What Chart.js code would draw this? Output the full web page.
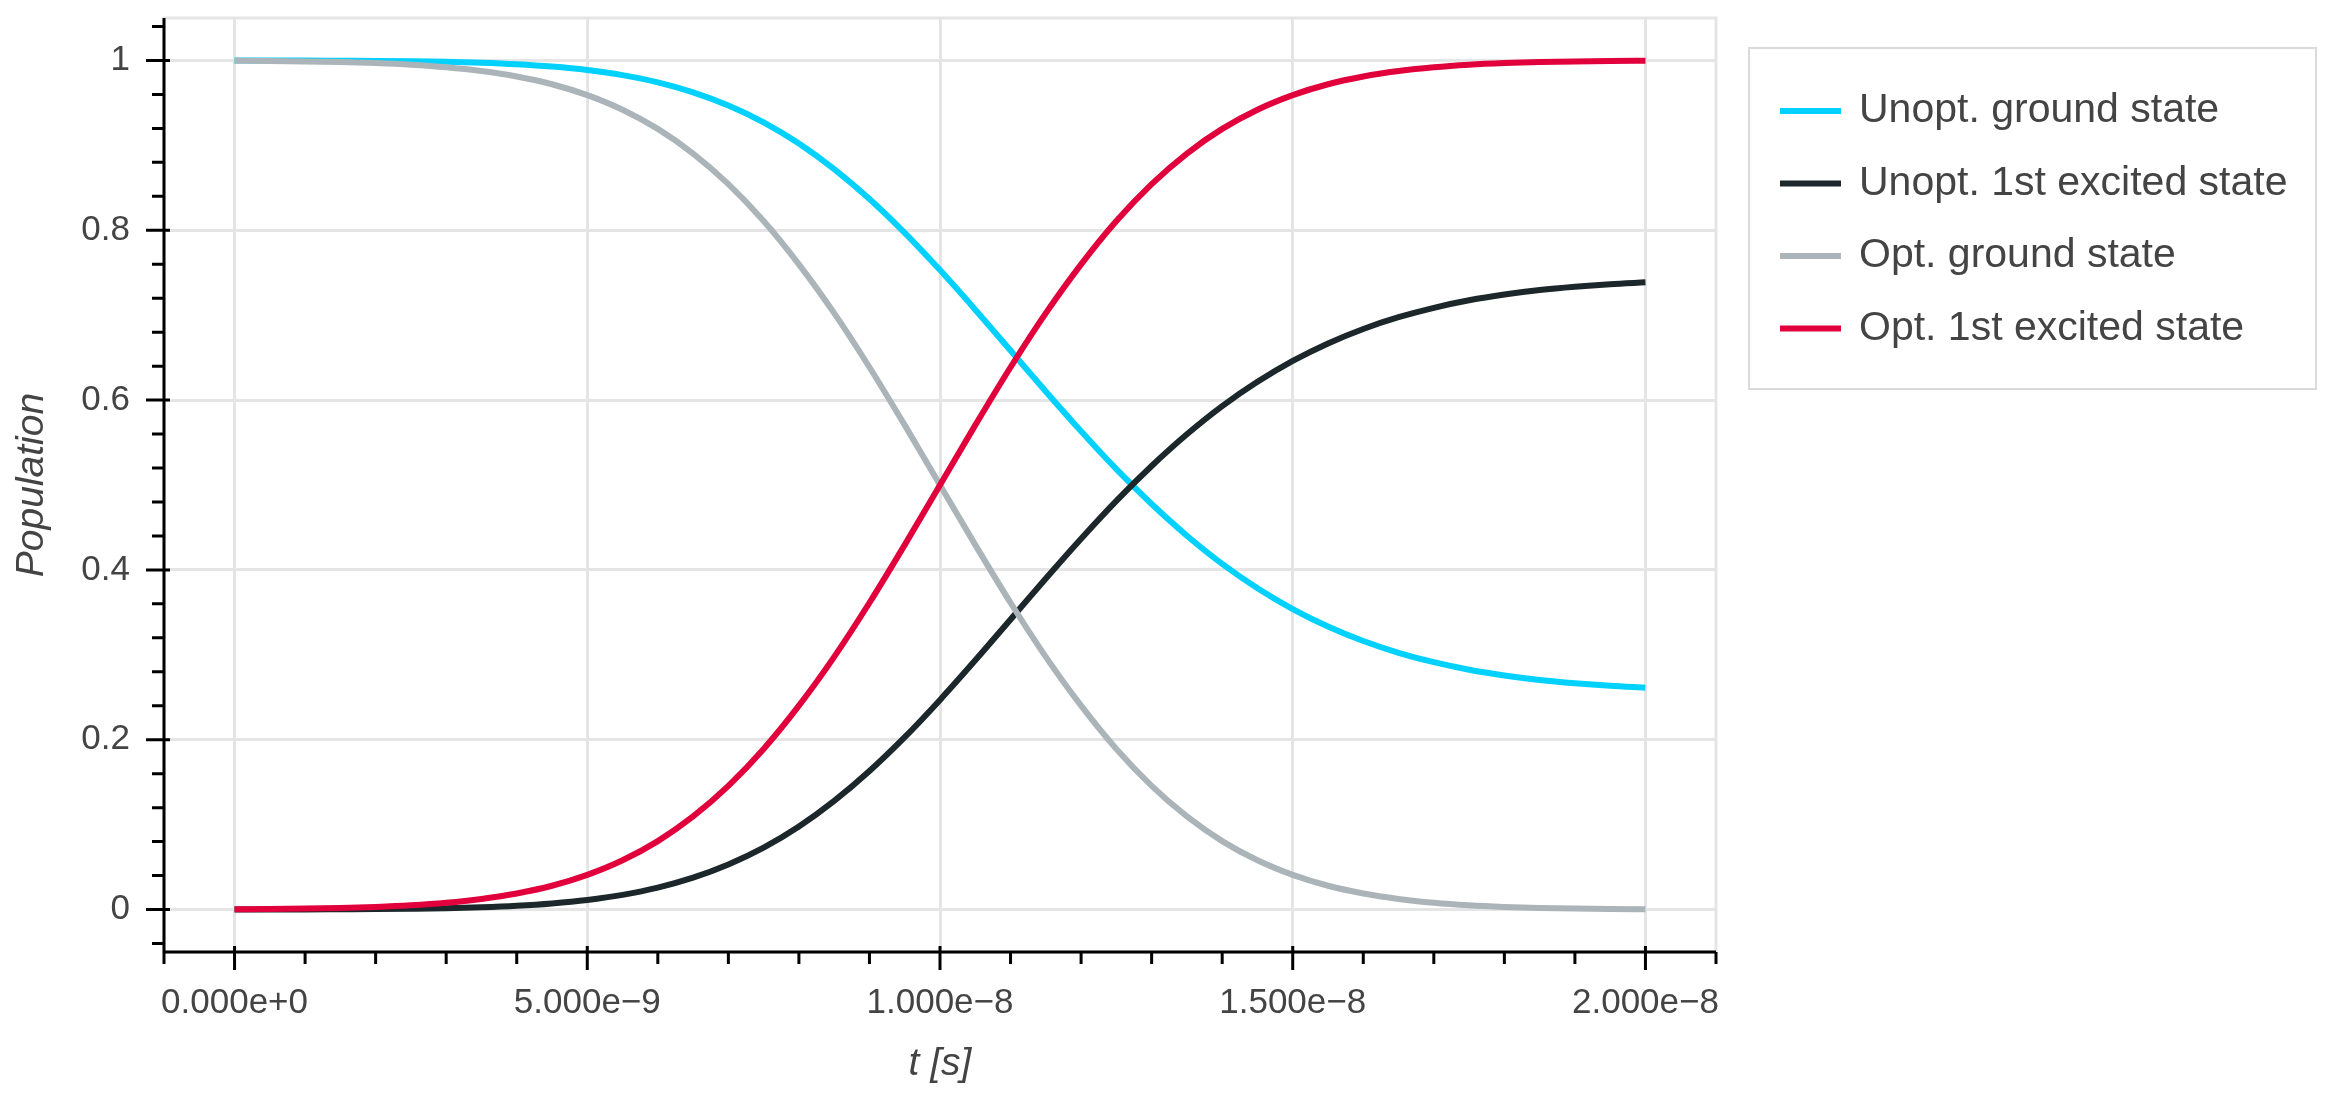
<!DOCTYPE html>
<html>
<head>
<meta charset="utf-8">
<script src="https://cdn.jsdelivr.net/npm/chart.js@4.4.1/dist/chart.umd.min.js"></script>
<style>
  html, body { margin: 0; padding: 0; background: #fff; }
  #wrap { position: relative; width: 2352px; height: 1094px; }
</style>
</head>
<body>
<div id="wrap"><canvas id="chart"></canvas></div>
<script>
// sample times [s]
const times = [
  0, 5e-10, 1e-9, 1.5e-9, 2e-9, 2.5e-9, 3e-9, 3.5e-9, 4e-9, 4.5e-9,
  5e-9, 5.5e-9, 6e-9, 6.5e-9, 7e-9, 7.5e-9, 8e-9, 8.5e-9, 9e-9, 9.5e-9,
  1e-8, 1.05e-8, 1.1e-8, 1.15e-8, 1.2e-8, 1.25e-8, 1.3e-8, 1.35e-8, 1.4e-8, 1.45e-8,
  1.5e-8, 1.55e-8, 1.6e-8, 1.65e-8, 1.7e-8, 1.75e-8, 1.8e-8, 1.85e-8, 1.9e-8, 1.95e-8,
  2e-8
];

// populations
const unoptGround = [
  1.0000, 0.9999, 0.9999, 0.9997, 0.9995, 0.9991, 0.9985, 0.9974, 0.9956, 0.9928,
  0.9887, 0.9827, 0.9742, 0.9625, 0.9470, 0.9272, 0.9023, 0.8721, 0.8369, 0.7970,
  0.7531, 0.7065, 0.6584, 0.6101, 0.5632, 0.5186, 0.4776, 0.4403, 0.4071, 0.3785,
  0.3539, 0.3333, 0.3162, 0.3024, 0.2913, 0.2825, 0.2757, 0.2704, 0.2665, 0.2635,
  0.2613
];
const unoptExcited = [
  0.0000, 0.0001, 0.0001, 0.0003, 0.0005, 0.0009, 0.0015, 0.0026, 0.0044, 0.0072,
  0.0113, 0.0173, 0.0258, 0.0375, 0.0530, 0.0728, 0.0977, 0.1279, 0.1631, 0.2030,
  0.2469, 0.2935, 0.3416, 0.3899, 0.4368, 0.4814, 0.5224, 0.5597, 0.5929, 0.6215,
  0.6461, 0.6667, 0.6838, 0.6976, 0.7087, 0.7175, 0.7243, 0.7296, 0.7335, 0.7365,
  0.7387
];
const optGround = [
  0.9996, 0.9994, 0.9989, 0.9981, 0.9969, 0.9950, 0.9920, 0.9875, 0.9811, 0.9720,
  0.9592, 0.9420, 0.9194, 0.8904, 0.8544, 0.8109, 0.7599, 0.7024, 0.6387, 0.5705,
  0.5000, 0.4295, 0.3613, 0.2976, 0.2401, 0.1891, 0.1456, 0.1096, 0.0806, 0.0580,
  0.0408, 0.0280, 0.0189, 0.0125, 0.0080, 0.0050, 0.0031, 0.0019, 0.0011, 0.0006,
  0.0004
];
const optExcited = [
  0.0004, 0.0006, 0.0011, 0.0019, 0.0031, 0.0050, 0.0080, 0.0125, 0.0189, 0.0280,
  0.0408, 0.0580, 0.0806, 0.1096, 0.1456, 0.1891, 0.2401, 0.2976, 0.3613, 0.4295,
  0.5000, 0.5705, 0.6387, 0.7024, 0.7599, 0.8109, 0.8544, 0.8904, 0.9194, 0.9420,
  0.9592, 0.9720, 0.9811, 0.9875, 0.9920, 0.9950, 0.9969, 0.9981, 0.9989, 0.9994,
  0.9996
];

const seriesNames = ["Unopt. ground state", "Unopt. 1st excited state", "Opt. ground state", "Opt. 1st excited state"];
const xTicks = [0, 5e-9, 1e-8, 1.5e-8, 2e-8];
const xTickLabels = ["0.000e+0", "5.000e\u22129", "1.000e\u22128", "1.500e\u22128", "2.000e\u22128"];
const yTicks = [0, 0.2, 0.4, 0.6, 0.8, 1];
const yTickLabels = ["0", "0.2", "0.4", "0.6", "0.8", "1"];

const FONT = '"Liberation Sans", Arial, Helvetica, sans-serif';
const TEXT = '#444444';

const toPoints = ys => ys.map((y, i) => ({x: times[i], y: y}));

function line(label, values, color, order) {
  return {
    label: label,
    data: toPoints(values),
    borderColor: color,
    backgroundColor: color,
    borderWidth: 6,
    pointRadius: 0,
    pointHoverRadius: 0,
    cubicInterpolationMode: 'monotone',
    fill: false,
    order: order
  };
}

// frame outline, axis lines and bokeh-style major/minor ticks
const axesPlugin = {
  id: 'axes',
  beforeDatasetsDraw(chart) {
    const {ctx, chartArea: a} = chart;
    ctx.save();
    ctx.strokeStyle = '#e5e5e5';
    ctx.lineWidth = 3;
    ctx.strokeRect(a.left, a.top, a.right - a.left, a.bottom - a.top);
    ctx.restore();
  },
  afterDraw(chart) {
    const {ctx, chartArea: a, scales: {x, y}} = chart;
    ctx.save();
    ctx.strokeStyle = '#000';
    ctx.lineWidth = 3;
    ctx.beginPath();
    ctx.moveTo(a.left, a.top);
    ctx.lineTo(a.left, a.bottom + 1.5);
    ctx.moveTo(a.left - 1.5, a.bottom);
    ctx.lineTo(a.right, a.bottom);
    xTicks.forEach(v => {
      const px = x.getPixelForValue(v);
      ctx.moveTo(px, a.bottom - 6);
      ctx.lineTo(px, a.bottom + 18);
    });
    for (let i = -1; i <= 21; i++) {
      if (i % 5 === 0) continue;
      const px = x.getPixelForValue(i * 1e-9);
      ctx.moveTo(px, a.bottom);
      ctx.lineTo(px, a.bottom + 12);
    }
    yTicks.forEach(v => {
      const py = y.getPixelForValue(v);
      ctx.moveTo(a.left - 18, py);
      ctx.lineTo(a.left + 6, py);
    });
    for (let i = -1; i <= 26; i++) {
      if (i % 5 === 0) continue;
      const py = y.getPixelForValue(i * 0.04);
      ctx.moveTo(a.left - 12, py);
      ctx.lineTo(a.left, py);
    }
    ctx.stroke();
    ctx.restore();
  }
};

// boxed legend to the right of the plot
const legendPlugin = {
  id: 'boxLegend',
  afterDraw(chart) {
    const ctx = chart.ctx;
    const box = {left: 1749, top: 48, right: 2316, bottom: 389};
    ctx.save();
    ctx.fillStyle = '#fff';
    ctx.fillRect(box.left, box.top, box.right - box.left, box.bottom - box.top);
    ctx.strokeStyle = '#dadada';
    ctx.lineWidth = 2;
    ctx.strokeRect(box.left, box.top, box.right - box.left, box.bottom - box.top);
    ctx.font = '41px ' + FONT;
    ctx.textBaseline = 'middle';
    ctx.textAlign = 'left';
    chart.data.datasets.forEach((ds, i) => {
      const cy = 111 + i * 72.5;
      ctx.strokeStyle = ds.borderColor;
      ctx.lineWidth = 6;
      ctx.beginPath();
      ctx.moveTo(1780, cy);
      ctx.lineTo(1841, cy);
      ctx.stroke();
      ctx.fillStyle = TEXT;
      ctx.fillText(ds.label, 1859, cy);
    });
    ctx.restore();
  }
};

new Chart(document.getElementById('chart'), {
  type: 'line',
  data: {
    datasets: [
      line(seriesNames[0], unoptGround, '#00d1ff', 3),
      line(seriesNames[1], unoptExcited, '#1c272b', 2),
      line(seriesNames[2], optGround, '#abb5b9', 1),
      line(seriesNames[3], optExcited, '#e1003b', 0)
    ]
  },
  options: {
    responsive: true,
    maintainAspectRatio: false,
    devicePixelRatio: 1,
    animation: false,
    layout: {padding: {top: 18, right: 636, left: 0, bottom: 0}},
    plugins: {legend: {display: false}, tooltip: {enabled: false}},
    scales: {
      x: {
        type: 'linear',
        min: -1e-9,
        max: 2.1e-8,
        afterBuildTicks: s => { s.ticks = xTicks.map(v => ({value: v})); },
        afterFit: s => { s.height = 142; s.paddingLeft = 0; s.paddingRight = 0; },
        grid: {color: '#e5e5e5', lineWidth: 3, drawTicks: false},
        border: {display: false},
        ticks: {
          autoSkip: false,
          maxRotation: 0,
          padding: 30,
          color: TEXT,
          font: {family: FONT, size: 35},
          callback: (v, i) => xTickLabels[i]
        },
        title: {
          display: true,
          text: 't [s]',
          color: TEXT,
          padding: {top: 0, bottom: 6},
          font: {family: FONT, size: 39, style: 'italic'}
        }
      },
      y: {
        type: 'linear',
        min: -0.05,
        max: 1.05,
        afterBuildTicks: s => { s.ticks = yTicks.map(v => ({value: v})); },
        afterFit: s => { s.width = 164; s.paddingTop = 0; s.paddingBottom = 0; },
        grid: {color: '#e5e5e5', lineWidth: 3, drawTicks: false},
        border: {display: false},
        ticks: {
          autoSkip: false,
          padding: 34,
          color: TEXT,
          font: {family: FONT, size: 35},
          callback: (v, i) => yTickLabels[i]
        },
        title: {
          display: true,
          text: 'Population',
          color: TEXT,
          padding: {top: 9, bottom: 0},
          font: {family: FONT, size: 39, style: 'italic'}
        }
      }
    }
  },
  plugins: [axesPlugin, legendPlugin]
});
</script>
</body>
</html>
